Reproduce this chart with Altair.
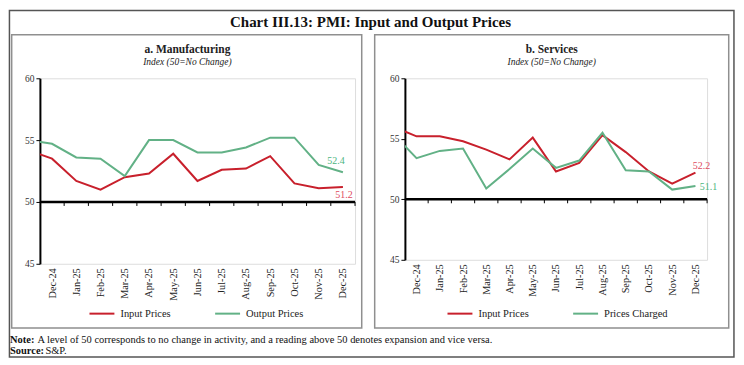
import json
import altair as alt
import pandas as pd

# ---------------- data ----------------
months = ["Nov-24", "Dec-24", "Jan-25", "Feb-25", "Mar-25", "Apr-25", "May-25",
          "Jun-25", "Jul-25", "Aug-25", "Sep-25", "Oct-25", "Nov-25", "Dec-25"]
mfg_input = [54.2, 53.5, 51.7, 51.0, 52.0, 52.3, 53.9, 51.7, 52.6, 52.7, 53.7, 51.5, 51.1, 51.2]
mfg_output = [55.0, 54.7, 53.6, 53.5, 52.1, 55.0, 55.0, 54.0, 54.0, 54.4, 55.2, 55.2, 53.0, 52.4]
svc_input = [56.0, 55.2, 55.2, 54.8, 54.1, 53.3, 55.1, 52.3, 53.0, 55.3, 53.9, 52.3, 51.3, 52.2]
svc_charged = [55.4, 53.4, 54.0, 54.2, 50.9, 52.5, 54.2, 52.6, 53.2, 55.5, 52.4, 52.3, 50.8, 51.1]
y_ticks = [45, 50, 55, 60]

chart_title = "Chart III.13: PMI: Input and Output Prices"
panel_titles = ["a. Manufacturing", "b. Services"]
panel_sub = "Index (50=No Change)"
series_names = [["Input Prices", "Output Prices"], ["Input Prices", "Prices Charged"]]
note_bold = "Note:"
note_text = "A level of 50 corresponds to no change in activity, and a reading above 50 denotes expansion and vice versa."
source_bold = "Source:"
source_text = "S&P."

RED = "#C8202C"
GREEN = "#62B186"
RED_LABEL = "#E04A5E"
GREEN_LABEL = "#4DB57E"
FONT = "Liberation Serif"
TEXT = "#222222"

n_cat = len(months) - 1  # visible categories (Dec-24..Dec-25)
label_expr = json.dumps(months) + "[datum.value + 1]"


def one(text):
    return alt.Chart(pd.DataFrame({"t": [text]}))


def panel(idx, inp, out, W, H, border, title_x, leg_x, leg_y, lab_specs, extra=None):
    names = series_names[idx]
    rows = []
    for i, m in enumerate(months):
        rows.append({"idx": i - 1, "month": m, "value": inp[i], "series": names[0]})
        rows.append({"idx": i - 1, "month": m, "value": out[i], "series": names[1]})
    df = pd.DataFrame(rows)

    xscale = alt.Scale(domain=[-0.5, n_cat - 0.5], nice=False, zero=False)
    yscale = alt.Scale(domain=[45, 60], nice=False, zero=False)

    lines = alt.Chart(df).mark_line(strokeWidth=2, clip=True).encode(
        x=alt.X("idx:Q", scale=xscale,
                axis=alt.Axis(values=list(range(n_cat)), tickCount=n_cat + 2,
                              labelExpr=label_expr, labelAngle=270,
                              domain=False, ticks=False, grid=False, title=None,
                              labelPadding=4, labelFont=FONT, labelFontSize=10.3, labelColor=TEXT,
                              labelFlush=False, labelOverlap=False)),
        y=alt.Y("value:Q", scale=yscale,
                axis=alt.Axis(values=y_ticks, tickCount=len(y_ticks) + 1, grid=False, title=None,
                              domainColor="black", domainWidth=2, tickColor="black",
                              tickSize=4, tickWidth=1,
                              labelFont=FONT, labelFontSize=9.5, labelColor="#333333",
                              labelPadding=2)),
        color=alt.Color("series:N", sort=names,
                        scale=alt.Scale(domain=names, range=[RED, GREEN]),
                        legend=alt.Legend(orient="none", legendX=leg_x, legendY=leg_y,
                                          direction="horizontal", title=None,
                                          symbolType="stroke", symbolSize=625,
                                          symbolStrokeWidth=2, labelFont=FONT,
                                          labelFontSize=10.5, labelColor=TEXT,
                                          labelOffset=5, columnPadding=40, padding=0)),
        detail="series:N",
    )

    base_line = alt.Chart(pd.DataFrame({"v": [50]})).mark_rule(
        color="black", strokeWidth=2.5).encode(y=alt.Y("v:Q", scale=yscale))

    bounds = pd.DataFrame({"b": [i + 0.5 for i in range(n_cat)], "v": [50] * n_cat})
    tick_marks = alt.Chart(bounds).mark_rule(color="black", strokeWidth=1, y2Offset=4).encode(
        x=alt.X("b:Q", scale=xscale), y=alt.Y("v:Q", scale=yscale), y2="v:Q")

    last = df[df["idx"] == n_cat - 1]
    labs = []
    for k, (dx, dy, col) in enumerate(lab_specs):
        d = last[last["series"] == names[k]]
        labs.append(alt.Chart(d).mark_text(font=FONT, fontSize=10, color=col, dx=dx, dy=dy,
                                           align="center", baseline="middle").encode(
            x=alt.X("idx:Q", scale=xscale), y=alt.Y("value:Q", scale=yscale),
            text=alt.Text("value:Q", format=".1f")))

    bx1, bx2, by1, by2 = border
    box = one("").mark_rect(fillOpacity=0, stroke="#8f8f8f", strokeWidth=1.5).encode(
        x=alt.value(bx1), x2=alt.value(bx2), y=alt.value(by1), y2=alt.value(by2))

    t1 = one(panel_titles[idx]).mark_text(font=FONT, fontSize=11.5, fontWeight="bold",
                                          color=TEXT, align="center", baseline="alphabetic").encode(
        x=alt.value(title_x), y=alt.value(-25.5), text="t:N")
    t2 = one(panel_sub).mark_text(font=FONT, fontSize=9.5, fontStyle="italic",
                                  color=TEXT, align="center", baseline="alphabetic").encode(
        x=alt.value(title_x), y=alt.value(-13.5), text="t:N")

    layers = [box, t1, t2, base_line, tick_marks, lines] + labs
    if extra:
        layers = extra + layers
    return alt.layer(*layers).properties(width=W, height=H)


# left panel plot origin ~ page (39.3, 76.7)
outer = one("").mark_rect(fillOpacity=0, stroke="#555555", strokeWidth=1.5).encode(
    x=alt.value(-30.55), x2=alt.value(695.95), y=alt.value(-67.95), y2=alt.value(279.55))
main_title = one(chart_title).mark_text(font=FONT, fontSize=15, fontWeight="bold", color="#111111",
                                        align="center", baseline="alphabetic").encode(
    x=alt.value(331.5), y=alt.value(-51.2), text="t:N")
note1 = one(note_bold).mark_text(font=FONT, fontSize=10.5, fontWeight="bold", color="#111111",
                                 align="left", baseline="alphabetic").encode(
    x=alt.value(-30), y=alt.value(265.6), text="t:N")
note2 = one(note_text).mark_text(font=FONT, fontSize=10.5, color="#111111",
                                 align="left", baseline="alphabetic").encode(
    x=alt.value(-2.5), y=alt.value(265.6), text="t:N")
src1 = one(source_bold).mark_text(font=FONT, fontSize=10.5, fontWeight="bold", color="#111111",
                                  align="left", baseline="alphabetic").encode(
    x=alt.value(-30), y=alt.value(276.6), text="t:N")
src2 = one(source_text).mark_text(font=FONT, fontSize=10.5, color="#111111",
                                  align="left", baseline="alphabetic").encode(
    x=alt.value(5.5), y=alt.value(276.6), text="t:N")

left = panel(0, mfg_input, mfg_output, 316, 186,
             (-28.3, 322.7, -43.7, 250.3), 147.9, 48.7, 222.5,
             [(1, 8, RED_LABEL), (-7, -11, GREEN_LABEL)],
             extra=[outer, main_title, note1, note2, src1, src2])
right = panel(1, svc_input, svc_charged, 303, 182,
              (-30.3, 324.7, -43.7, 250.3), 147.2, 41.7, 222.5,
              [(6, -7, RED_LABEL), (13, 1.5, GREEN_LABEL)])

chart = alt.hconcat(left, right, spacing=50, bounds="flush").resolve_scale(
    color="independent", x="independent", y="independent"
).resolve_legend(color="independent").properties(padding=0).configure_view(
    strokeOpacity=0
).configure(background="white")

chart.save("out.html", embed_options={"renderer": "svg", "actions": False})
